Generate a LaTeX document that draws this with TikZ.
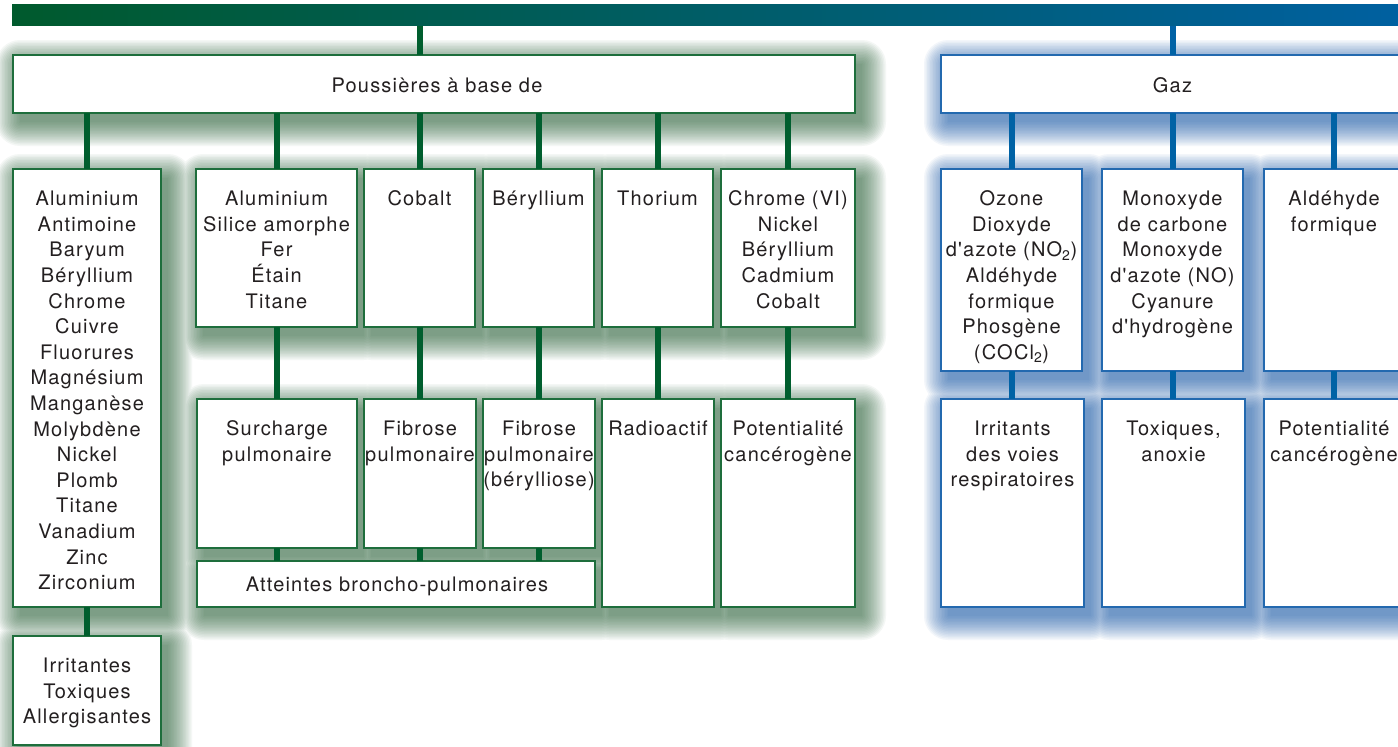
\documentclass[tikz,border=0pt]{standalone}
\usepackage{fontspec}
\setmainfont{TeX Gyre Heros}[LetterSpace=6, Ligatures=TeXOff]
\usetikzlibrary{backgrounds}
\definecolor{gdark}{RGB}{0,94,46}
\definecolor{bdark}{RGB}{0,98,165}
\definecolor{gborder}{RGB}{30,110,60}
\definecolor{bborder}{RGB}{35,105,175}
\definecolor{gglow}{RGB}{45,100,60}
\definecolor{bglow}{RGB}{25,90,170}
\definecolor{ink}{RGB}{35,31,32}
\definecolor{barleft}{RGB}{0,90,45}
\definecolor{barright}{RGB}{0,96,160}
\tikzset{
  gbox/.style={draw=gborder, line width=1.4pt, fill=white, inner sep=0pt, outer sep=0pt},
  bbox/.style={draw=bborder, line width=1.4pt, fill=white, inner sep=0pt, outer sep=0pt},
  txt/.style={font=\fontsize{20}{25.6}\selectfont, align=center, inner sep=0pt, text=ink},
  gline/.style={draw=gdark, line width=6pt},
  bline/.style={draw=bdark, line width=6pt},
}
\newcommand\mkbox[7]{%
  \node[#6, minimum width={(#4)-(#2)}, minimum height={(#5)-(#3)}] (#1) at ({((#2)+(#4))/2},{((#3)+(#5))/2}) {};
  \node[txt, anchor=north] (#1t) at ({((#2)+(#4))/2},{(#3)+21.5}) {\rule{0pt}{15pt}#7};}
\newcommand\mkplain[6]{%
  \node[#6, minimum width={(#4)-(#2)}, minimum height={(#5)-(#3)}] (#1) at ({((#2)+(#4))/2},{((#3)+(#5))/2}) {};}
% one union path per blur step, so that overlapping shadows do not add up
\newcommand\glowset[2]{%
  \foreach \e in {0,1.5,3,...,24}{%
    \fill[#2, fill opacity=0.05, rounded corners=\e pt+0.1pt]
      \foreach \n in {#1}{
      ([xshift={7pt-\e pt}, yshift={-9pt+\e pt}]\n.north west) rectangle
      ([xshift={7pt+\e pt}, yshift={-9pt-\e pt}]\n.south east)};}}
\begin{document}
\begin{tikzpicture}[x=1pt, y=-1pt]
\useasboundingbox (0,0) rectangle (1398,747);
% top bar
\node[left color=barleft, right color=barright, minimum width=1386, minimum height=21.7, inner sep=0pt, outer sep=0pt] (bar) at (705,14.85) {};
% green side
\mkplain{pous}{13}{55}{855}{113}{gbox}
\node[txt, anchor=base] (poust) at (437,92) {Poussières à base de};
\mkbox{b1}{13}{169}{161}{607}{gbox}{Aluminium\\Antimoine\\Baryum\\Béryllium\\Chrome\\Cuivre\\Fluorures\\Magnésium\\Manganèse\\Molybdène\\Nickel\\Plomb\\Titane\\Vanadium\\Zinc\\Zirconium}
\mkbox{b2}{196}{169}{357}{327}{gbox}{Aluminium\\Silice amorphe\\Fer\\Étain\\Titane}
\mkbox{cob}{364}{169}{475}{327}{gbox}{Cobalt}
\mkbox{ber}{483}{169}{594}{327}{gbox}{Béryllium}
\mkbox{tho}{602}{169}{713}{327}{gbox}{Thorium}
\mkbox{chr}{721}{169}{855}{327}{gbox}{Chrome (VI)\\Nickel\\Béryllium\\Cadmium\\Cobalt}
\mkbox{sur}{197}{399}{357}{548}{gbox}{Surcharge\\pulmonaire}
\mkbox{fib}{364}{399}{476}{548}{gbox}{Fibrose\\pulmonaire}
\mkbox{fbe}{483}{399}{595}{548}{gbox}{Fibrose\\pulmonaire\\(bérylliose)}
\mkbox{rad}{602}{399}{714}{607}{gbox}{Radioactif}
\mkbox{pot}{721}{399}{855}{607}{gbox}{Potentialité\\cancérogène}
\mkplain{att}{197}{561}{595}{607}{gbox}
\node[txt, anchor=base] (attt) at (397,591) {Atteintes broncho-pulmonaires};
\mkbox{irr}{13}{636}{161}{745}{gbox}{Irritantes\\Toxiques\\Allergisantes}
% blue side
\mkplain{gaz}{941}{55}{1404}{113}{bbox}
\node[txt, anchor=base] (gazt) at (1172.5,92) {Gaz};
\mkbox{oz}{941}{169}{1082}{371}{bbox}{Ozone\\Dioxyde\\d'azote (NO\textsubscript{2})\\Aldéhyde\\formique\\Phosgène\\(COCl\textsubscript{2})}
\mkbox{mon}{1102}{169}{1243}{371}{bbox}{Monoxyde\\de carbone\\Monoxyde\\d'azote (NO)\\Cyanure\\d'hydrogène}
\mkbox{ald}{1264}{169}{1404}{371}{bbox}{Aldéhyde\\formique}
\mkbox{irv}{941}{399}{1084}{607}{bbox}{Irritants\\des voies\\respiratoires}
\mkbox{tox}{1102}{399}{1245}{607}{bbox}{Toxiques,\\anoxie}
\mkbox{pcb}{1264}{399}{1404}{607}{bbox}{Potentialité\\cancérogène}
% glows
\begin{scope}[on background layer]
\fill[white] (0,0) rectangle (1398,747);
\glowset{pous,b1,b2,cob,ber,tho,chr,sur,fib,fbe,rad,pot,att,irr}{gglow}
\glowset{gaz,oz,mon,ald,irv,tox,pcb}{bglow}
\end{scope}
% connectors
\draw[gline] (bar.south -| cob.north) -- (pous.north -| cob.north);
\draw[bline] (bar.south -| gaz.north) -- (gaz.north);
\foreach \n in {b1,b2,cob,ber,tho,chr}{\draw[gline] (pous.south -| \n.north) -- (\n.north);}
\draw[gline] (b2.south) -- (sur.north -| b2.south);
\draw[gline] (cob.south) -- (fib.north -| cob.south);
\draw[gline] (ber.south) -- (fbe.north -| ber.south);
\draw[gline] (tho.south) -- (rad.north -| tho.south);
\draw[gline] (chr.south) -- (pot.north -| chr.south);
\foreach \n in {sur,fib,fbe}{\draw[gline] (\n.south) -- (att.north -| \n.south);}
\draw[gline] (b1.south) -- (irr.north);
\foreach \n in {oz,mon,ald}{\draw[bline] (gaz.south -| \n.north) -- (\n.north);}
\draw[bline] (oz.south) -- (irv.north -| oz.south);
\draw[bline] (mon.south) -- (tox.north -| mon.south);
\draw[bline] (ald.south) -- (pcb.north -| ald.south);
\end{tikzpicture}
\end{document}
